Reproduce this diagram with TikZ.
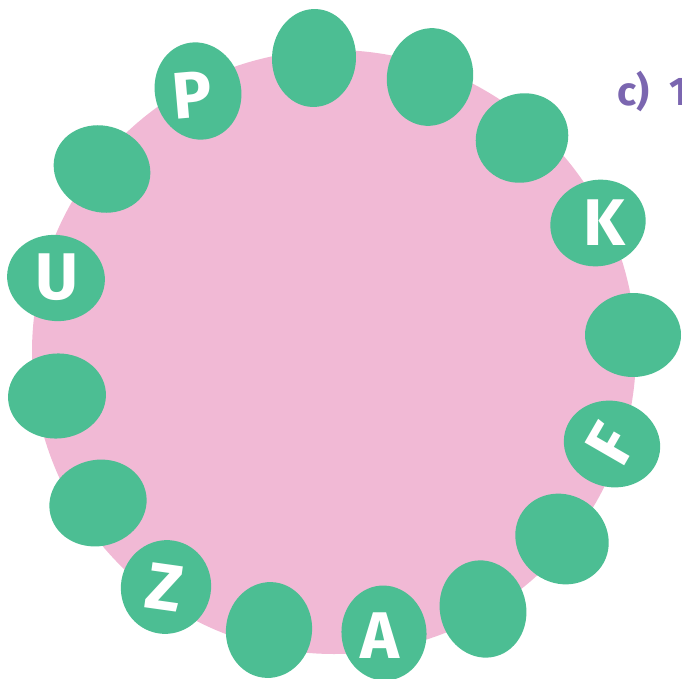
\documentclass[tikz,border=0pt]{standalone}
\usepackage{fontspec}
\setmainfont{Fira Sans}
\usetikzlibrary{shapes.geometric}
\definecolor{pinkbg}{HTML}{F1B9D5}
\definecolor{beadgreen}{HTML}{4CBE93}
\definecolor{labelpurple}{HTML}{7B66B0}
\begin{document}
\begin{tikzpicture}[x=1pt,y=-1pt,
  bead/.style={ellipse, fill=beadgreen, draw=none, inner sep=0pt},
  letter/.style={text=white, font=\fontsize{66}{66}\selectfont\bfseries, inner sep=0pt}]
\useasboundingbox (0,0) rectangle (682,679);
\clip (0,0) rectangle (682,679);
\node[circle, fill=pinkbg, minimum size=604pt, inner sep=0pt] (disc) at (334,352) {};
% beads
\node[bead, minimum width=86pt, minimum height=98pt, rotate=15] (b1) at (198,91) {};
\node[bead, minimum width=98pt, minimum height=86pt, rotate=-20] (b2) at (102,169) {};
\node[bead, minimum width=98pt, minimum height=86pt, rotate=-8] (b3) at (56,278) {};
\node[bead, minimum width=98pt, minimum height=85pt, rotate=5] (b4) at (57,396) {};
\node[bead, minimum width=98pt, minimum height=86pt, rotate=15] (b5) at (98,503) {};
\node[bead, minimum width=90pt, minimum height=94pt, rotate=-15] (b6) at (166,587) {};
\node[bead, minimum width=86pt, minimum height=96pt, rotate=-8] (b7) at (269,630) {};
\node[bead, minimum width=85pt, minimum height=95pt, rotate=5] (b8) at (384,633) {};
\node[bead, minimum width=86pt, minimum height=98pt, rotate=15] (b9) at (483,609) {};
\node[bead, minimum width=96pt, minimum height=88pt, rotate=-35] (b10) at (562,539) {};
\node[bead, minimum width=97pt, minimum height=86pt, rotate=-15] (b11) at (612,444) {};
\node[bead, minimum width=96pt, minimum height=84pt] (b12) at (633,335) {};
\node[bead, minimum width=96pt, minimum height=86pt, rotate=15] (b13) at (598,223) {};
\node[bead, minimum width=94pt, minimum height=88pt, rotate=30] (b14) at (522,138) {};
\node[bead, minimum width=86pt, minimum height=98pt, rotate=-10] (b15) at (430,77) {};
\node[bead, minimum width=84pt, minimum height=98pt, rotate=-3] (b16) at (314,58) {};
% letters
\node[letter, rotate=5] (lP) at (192,95) {P};
\node[letter] (lU) at (57,277) {U};
\node[letter, rotate=-8] (lZ) at (164,587) {Z};
\node[letter] (lA) at (380,636) {A};
\node[letter, rotate=60] (lF) at (611,444) {F};
\node[letter] (lK) at (604,223) {K};
% partial label
\node[anchor=base west, inner sep=0pt, text=labelpurple, font=\fontsize{40}{40}\selectfont\bfseries] (lab) at (617,106) {c)\hspace{20pt}1};
\end{tikzpicture}
\end{document}
